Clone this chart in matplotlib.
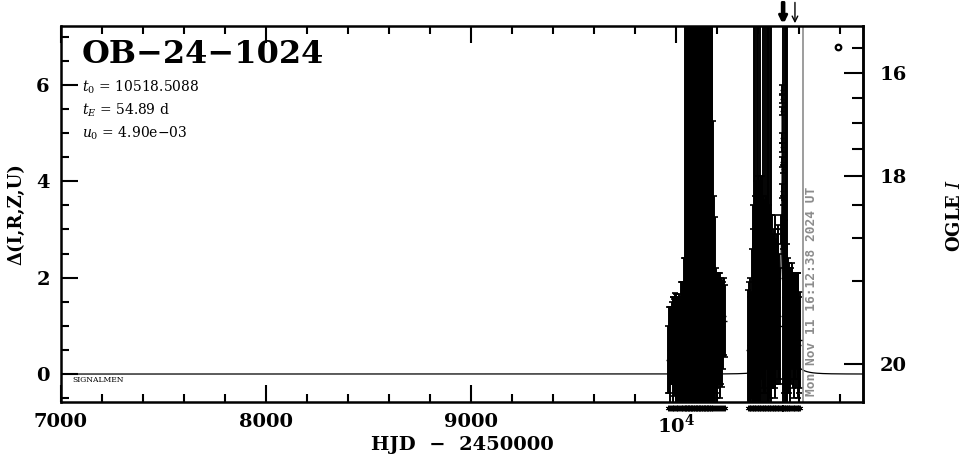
import numpy as np
import matplotlib.pyplot as plt
from matplotlib.ticker import MultipleLocator, FixedLocator, FuncFormatter

plt.rcParams['font.family'] = 'DejaVu Serif'
plt.rcParams['mathtext.fontset'] = 'dejavuserif'

# event parameters
t0 = 10518.5088
tE = 54.89
u0 = 4.90e-3
fs = 0.127     # source fraction used for the OGLE I scale
I0 = 20.03     # baseline I mag
now_t = 10621  # Mon Nov 11 16:12:38 2024 UT

# season 2023 (HJD - 2450000, delta mag, error)
t_a = [9962, 9966, 9970, 9975, 9979, 9983, 9987, 9991, 9995, 9999, 10003,
       10007, 10011, 10015, 10019, 10023, 10027, 10031, 10035, 10039, 10042,
       10044, 10047, 10050, 10053, 10056, 10059, 10062, 10065, 10068, 10071,
       10074, 10077, 10080, 10083, 10086, 10089, 10092, 10095, 10098, 10101,
       10104, 10107, 10110, 10113, 10116, 10119, 10122, 10125, 10128, 10131,
       10134, 10137, 10140, 10143, 10146, 10149, 10152, 10155, 10158, 10161,
       10164, 10167, 10170, 10173, 10176,
       10180, 10185, 10190, 10195, 10200, 10205, 10210, 10215, 10220, 10224,
       10230, 10235, 10239]
d_a = [0.3, 0.5, 0.4, 0.6, 0.65, 0.5, 0.7, 0.55, 0.64, 0.45, 0.6,
       0.5, 0.4, 0.55, 0.4, 0.6, 0.5, 0.7, 0.6, 0.8, 0.9,
       1.2, 1.8, 0.9, 1.5, 2.1, 1.0, 1.7, 1.3, 2.4, 0.8,
       1.6, 1.1, 2.0, 1.4, 0.7, 1.9, 1.2, 1.5, 2.2, 1.0,
       1.3, 1.8, 0.9, 1.6, 2.0, 1.1, 1.4, 0.8, 1.7, 1.2,
       1.9, 1.0, 1.5, 0.9, 2.1, 1.3, 1.6, 1.1, 1.8, 1.4,
       1.0, 1.5, 1.2, 1.7, 1.3,
       1.5, 1.2, 1.0, 0.9, 0.8, 0.9, 0.95, 0.8, 0.9, 0.84,
       1.0, 1.2, 1.1]
e_a = [0.7, 0.9, 1.0, 0.8, 0.85, 1.1, 0.9, 1.0, 1.04, 1.2, 1.0,
       1.1, 1.2, 1.1, 1.2, 1.3, 1.4, 1.2, 1.3, 1.6, 1.5,
       7.5, 9.0, 6.8, 8.2, 10.0, 7.0, 9.5, 8.0, 11.0, 6.9,
       8.8, 7.4, 9.9, 8.1, 7.0, 10.2, 7.6, 8.4, 9.0, 7.2,
       8.0, 9.6, 7.1, 8.7, 9.2, 7.3, 8.3, 6.9, 9.1, 7.8,
       9.4, 7.0, 8.5, 7.2, 10.4, 8.0, 8.9, 7.5, 9.7, 8.2,
       7.1, 8.6, 7.7, 9.3, 8.0,
       3.75, 2.5, 2.26, 1.3, 1.3, 1.2, 1.15, 1.3, 1.1, 1.11,
       0.9, 0.8, 0.75]

# season 2024
t_b = [10352, 10355.5, 10359, 10362.5, 10366, 10369.5, 10373, 10376.5,
       10380, 10383.5, 10387, 10390.5, 10394, 10397.5, 10401, 10404.5,
       10408, 10411.5, 10415, 10418.5, 10422, 10425.5, 10429, 10432.5,
       10436, 10439.5, 10443, 10446.5, 10450, 10453.5, 10457, 10460.5,
       10464, 10467.5, 10471, 10474.5, 10478, 10481.5, 10485, 10488.5,
       10492, 10495.5, 10499, 10502.5, 10506,
       10524, 10527, 10530, 10533, 10536, 10539, 10542,
       10545, 10549, 10553, 10557, 10561, 10565, 10569, 10573, 10577,
       10581, 10585, 10589, 10593, 10597, 10601, 10605]
d_b = [0.5, 0.6, 0.4, 0.7, 0.6, 1.0, 1.2, 1.5,
       1.8, 1.4, 2.0, 1.6, 2.2, 1.5, 2.0, 1.7,
       1.8, 2.4, 1.6, 2.0, 1.9, 1.7, 1.5, 1.6,
       2.2, 1.9, 2.1, 2.5, 2.0, 1.6, 1.8, 1.4,
       1.8, 1.5, 1.3, 1.2, 1.4, 1.5, 1.1, 1.3,
       1.5, 1.4, 1.6, 1.2, 1.0,
       2.0, 1.6, 1.8, 1.4, 2.3, 1.5, 1.2,
       1.0, 0.9, 1.1, 0.8, 1.0, 1.2, 0.9, 1.0, 0.8,
       1.0, 0.9, 1.1, 0.8, 1.0, 0.6, 0.7]
e_b = [1.24, 1.3, 1.2, 1.3, 1.1, 1.6, 1.8, 2.0,
       7.0, 2.3, 8.0, 2.4, 7.0, 2.6, 8.5, 2.3,
       2.2, 7.5, 2.5, 2.1, 7.8, 2.0, 1.9, 2.0,
       7.0, 1.8, 8.0, 9.0, 8.0, 1.9, 8.5, 1.9,
       7.0, 1.8, 1.6, 1.5, 1.6, 1.8, 1.6, 1.5,
       1.4, 1.6, 1.5, 1.3, 1.2,
       8.0, 2.0, 9.0, 1.8, 7.0, 8.0, 1.5,
       1.4, 1.3, 1.2, 1.4, 1.2, 1.1, 1.2, 1.1, 1.3,
       1.1, 1.2, 1.0, 1.3, 1.1, 1.0, 1.0]

# points near the peak with small errors
t_p = [10513.0, 10515.5, 10516.8, 10517.4, 10517.9, 10518.3, 10518.7,
       10519.2, 10519.6, 10520.3, 10521.5]
d_p = [3.0, 3.8, 4.4, 4.7, 5.45, 5.9, 5.7, 4.9, 4.25, 3.6, 2.8]
e_p = [0.3, 0.15, 0.1, 0.1, 0.08, 0.1, 0.08, 0.1, 0.08, 0.1, 0.2]

arrow_t = [10518.5, 10526, 10580]


def d2I(d):
    d = np.asarray(d, dtype=float)
    return I0 - 2.5 * np.log10(1 + fs * (10 ** (0.4 * d) - 1))


def I2d(m):
    m = np.asarray(m, dtype=float)
    arg = 1 + (10 ** (-0.4 * (m - I0)) - 1) / fs
    return 2.5 * np.log10(np.clip(arg, 1e-3, None))


fig = plt.figure(figsize=(9.66, 4.59), dpi=100)
ax = fig.add_axes([0.0631, 0.1242, 0.8303, 0.8192])

# PSPL model
tm = np.sort(np.concatenate([np.linspace(7000, 10912, 3000),
                             t0 + np.linspace(-40, 40, 4001)]))
u = np.sqrt(u0 ** 2 + ((tm - t0) / tE) ** 2)
A = (u ** 2 + 2) / (u * np.sqrt(u ** 2 + 4))
ax.plot(tm, 2.5 * np.log10(A), color='black', lw=0.9)

for t, d, e in [(t_a, d_a, e_a), (t_b, d_b, e_b), (t_p, d_p, e_p)]:
    ax.errorbar(t, d, yerr=e, fmt='_', ms=3, color='black',
                elinewidth=1.4, capsize=2, capthick=1.2)

# observation dates under the axis
t_all = t_a + t_b + t_p
ax.plot(t_all, [-0.017] * len(t_all), ls='none', marker=(6, 2, 0), ms=4,
        color='black', mew=0.6, transform=ax.get_xaxis_transform(), clip_on=False)

ax.plot([10790], [6.78], 'o', mfc='none', mec='black', ms=4, mew=1.6)

ax.axvline(now_t, color='#8c8c8c', lw=1.2)
ax.text(now_t + 40, -0.45, 'Mon Nov 11 16:12:38 2024 UT', rotation=90,
        ha='center', va='bottom', color='#8c8c8c', fontsize=9.3,
        family='DejaVu Sans Mono', weight='bold')

for t in arrow_t:
    lw = 2.2 if t < 10560 else 1.0
    ax.annotate('', xy=(t, 1.0), xycoords=('data', 'axes fraction'),
                xytext=(t, 1.07), textcoords=('data', 'axes fraction'),
                arrowprops=dict(arrowstyle='->', lw=lw, color='black'))

ax.text(7058, -0.12, 'SIGNALMEN', fontsize=5.5, ha='left', va='center')

ax.text(0.026, 0.923, 'OB\u221224\u22121024', transform=ax.transAxes,
        fontsize=23, weight='bold', ha='left', va='center')
ax.text(0.026, 0.838, '$t_0$ = 10518.5088', transform=ax.transAxes,
        fontsize=10, ha='left', va='center')
ax.text(0.026, 0.777, '$t_{E}$ = 54.89 d', transform=ax.transAxes,
        fontsize=10, ha='left', va='center')
ax.text(0.026, 0.715, '$u_0$ = 4.90e\u221203', transform=ax.transAxes,
        fontsize=10, ha='left', va='center')

ax.set_xlim(7000, 10912)
ax.set_ylim(-0.58, 7.22)
ax.xaxis.set_major_locator(MultipleLocator(1000))
ax.xaxis.set_minor_locator(MultipleLocator(200))
ax.yaxis.set_major_locator(MultipleLocator(2))
ax.yaxis.set_minor_locator(MultipleLocator(0.5))
ax.xaxis.set_major_formatter(FuncFormatter(
    lambda v, p: r'$\mathbf{10^4}$' if v == 10000 else '%d' % v))

ax.tick_params(which='both', direction='in', top=True, right=False, width=1.5)
ax.tick_params(which='major', length=12, labelsize=14, pad=8)
ax.tick_params(which='minor', length=6)
for lab in ax.get_xticklabels() + ax.get_yticklabels():
    lab.set_fontweight('bold')
for s in ax.spines.values():
    s.set_linewidth(1.8)

sec = ax.secondary_yaxis('right', functions=(d2I, I2d))
sec.yaxis.set_major_locator(FixedLocator([16, 18, 20]))
sec.yaxis.set_minor_locator(FixedLocator([15.5, 16.5, 17, 17.5, 18.5, 19, 19.5]))
sec.tick_params(which='both', direction='in', width=1.5)
sec.tick_params(which='major', length=14, labelsize=14, pad=12)
sec.tick_params(which='minor', length=8)
sec.spines['right'].set_linewidth(1.8)
for lab in sec.get_yticklabels():
    lab.set_fontweight('bold')

ax.set_xlabel('HJD  \u2212  2450000', fontsize=14, weight='bold', labelpad=0)
ax.set_ylabel('\u0394(I,R,Z,U)', fontsize=13, weight='bold', labelpad=8)
fig.text(0.989, 0.53, 'OGLE $I$', rotation=90, fontsize=13, weight='bold',
         ha='center', va='center')

fig.savefig('out.png', dpi=100)
